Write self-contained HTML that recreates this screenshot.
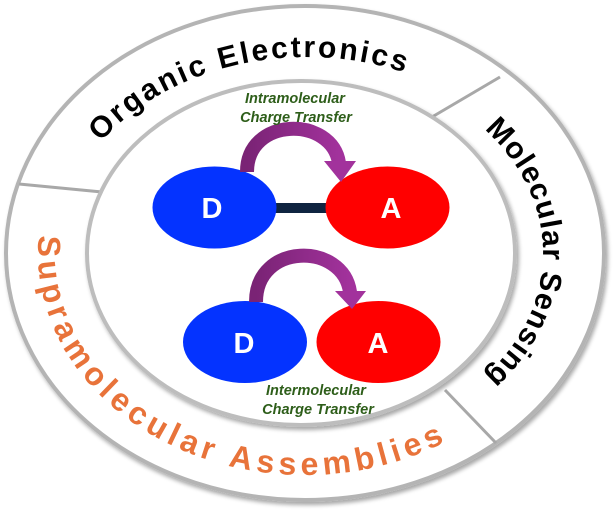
<!DOCTYPE html>
<html><head><meta charset="utf-8"><style>
html,body{margin:0;padding:0;background:#fff;}
svg{display:block;}
</style></head><body>
<svg width="616" height="511" viewBox="0 0 616 511" xmlns="http://www.w3.org/2000/svg">
<defs>
<filter id="sh" x="-10%" y="-10%" width="120%" height="120%">
<feGaussianBlur in="SourceAlpha" stdDeviation="2"/>
<feOffset dx="2" dy="3" result="b"/>
<feComponentTransfer><feFuncA type="linear" slope="0.35"/></feComponentTransfer>
<feMerge><feMergeNode/><feMergeNode in="SourceGraphic"/></feMerge>
</filter>
<linearGradient id="pg" x1="0" y1="0" x2="1" y2="0">
<stop offset="0" stop-color="#7a2375"/><stop offset="1" stop-color="#a2329c"/>
</linearGradient>
<path id="pTop" d="M55,257 A252,200 0 1 1 559,257 A252,200 0 1 1 55,257"/>
<path id="pRight" d="M67,253 A238,188 0 1 1 543,253 A238,188 0 1 1 67,253"/>
<path id="pBot" d="M305,31 A267,222 0 1 0 305,475 A267,222 0 1 0 305,31"/>
</defs>
<ellipse cx="305" cy="253" rx="299" ry="247" fill="#fff" stroke="#b4b4b4" stroke-width="4" filter="url(#sh)"/>
<line x1="19" y1="184" x2="102" y2="192" stroke="#a8a8a8" stroke-width="3"/>
<line x1="432" y1="117" x2="500" y2="77" stroke="#a8a8a8" stroke-width="3"/>
<line x1="445" y1="390" x2="496" y2="443" stroke="#a8a8a8" stroke-width="3"/>
<ellipse cx="301" cy="253" rx="214" ry="172" fill="#fff" stroke="#bdbdbd" stroke-width="4" filter="url(#sh)"/>

<text font-family="Liberation Sans, sans-serif" font-weight="bold" font-size="30" fill="#000" letter-spacing="2.5" text-anchor="middle"><textPath href="#pTop" startOffset="20.5%">Organic Electronics</textPath></text>
<text font-family="Liberation Sans, sans-serif" font-weight="bold" font-size="30" fill="#000" letter-spacing="1" text-anchor="middle"><textPath href="#pRight" startOffset="50%">Molecular Sensing</textPath></text>
<text font-family="Liberation Sans, sans-serif" font-weight="bold" font-size="32" fill="#e8733a" letter-spacing="5" text-anchor="middle"><textPath href="#pBot" startOffset="41.8%">Supramolecular Assemblies</textPath></text>

<rect x="270" y="203" width="60" height="10" fill="#0f2440"/>
<ellipse cx="214.5" cy="207.5" rx="62" ry="41" fill="#0433ff"/>
<ellipse cx="387.5" cy="207.5" rx="62" ry="41" fill="#ff0000"/>
<ellipse cx="245" cy="342" rx="62" ry="41" fill="#0433ff"/>
<ellipse cx="378.5" cy="342" rx="62" ry="41" fill="#ff0000"/>

<path d="M247,172 C247,116 332,116 339,163" fill="none" stroke="url(#pg)" stroke-width="14"/>
<polygon points="324,161 356,161 341,182" fill="#a2329c"/>
<path d="M256,302 C256,242 343,242 350,292" fill="none" stroke="url(#pg)" stroke-width="14"/>
<polygon points="335,291 366,291 352,309" fill="#a2329c"/>

<g font-family="Liberation Sans, sans-serif" font-weight="bold" font-size="29" fill="#fff" text-anchor="middle">
<text x="212" y="218">D</text><text x="391" y="218">A</text>
<text x="244" y="353">D</text><text x="378" y="353">A</text>
</g>
<g font-family="Liberation Sans, sans-serif" font-weight="bold" font-style="italic" font-size="14.5" fill="#2e5e1a" text-anchor="middle">
<text x="295" y="103">Intramolecular</text>
<text x="296" y="122">Charge Transfer</text>
<text x="316" y="395">Intermolecular</text>
<text x="318" y="414">Charge Transfer</text>
</g>
</svg>
</body></html>
